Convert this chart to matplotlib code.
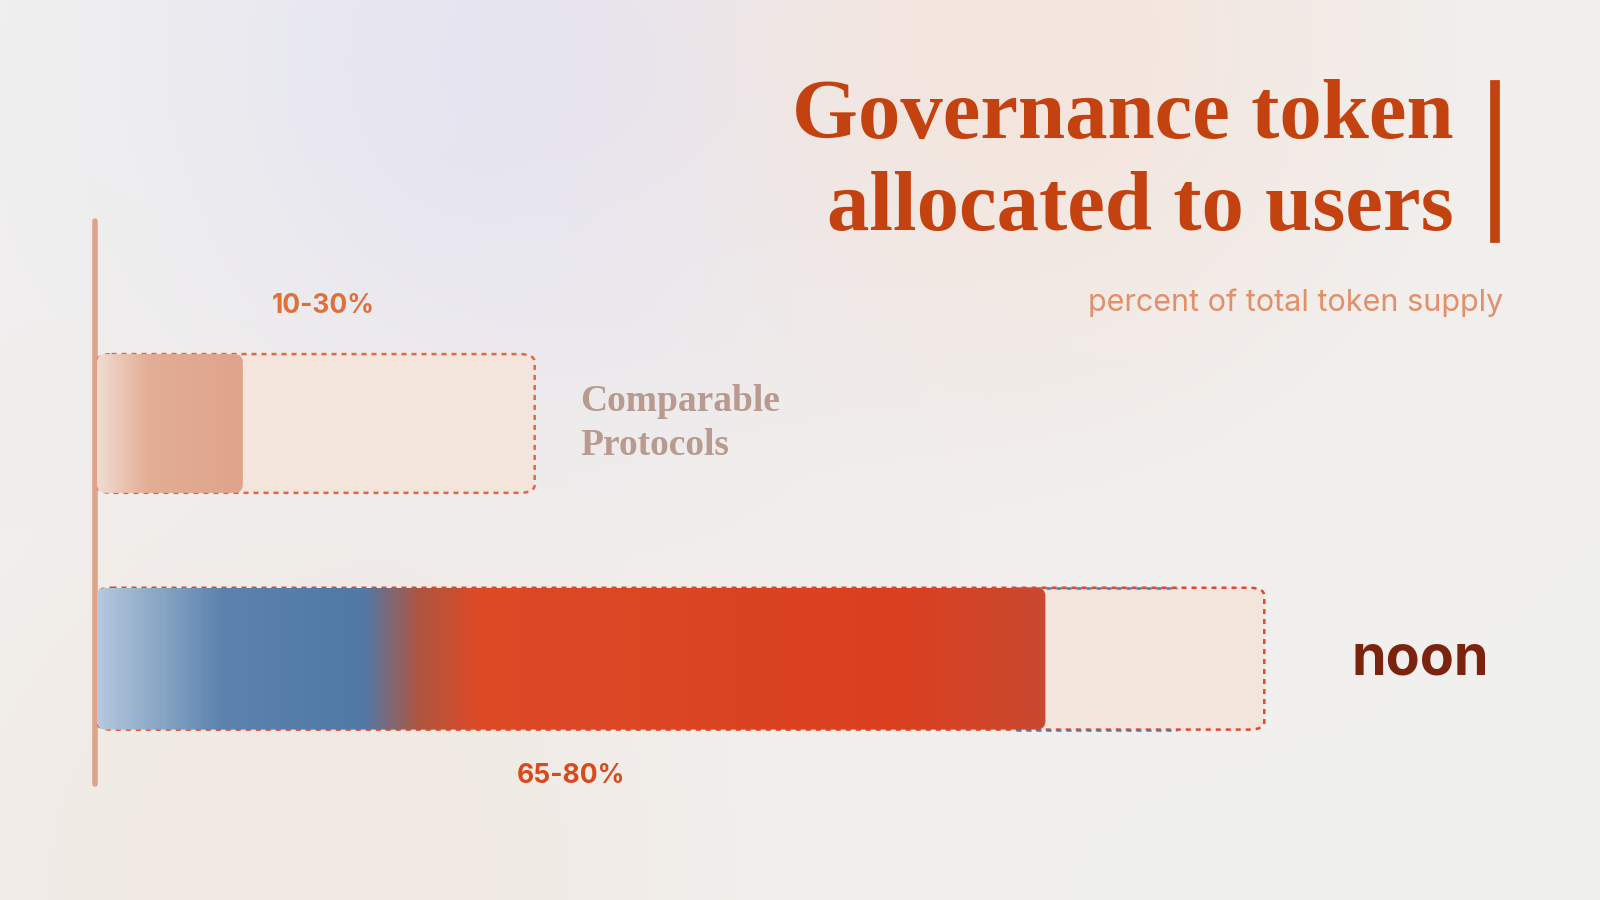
import numpy as np
import matplotlib.pyplot as plt
from matplotlib.patches import FancyBboxPatch
from matplotlib.colors import LinearSegmentedColormap

# data
groups = ["Comparable\nProtocols", "noon"]
low = [10, 65]
high = [30, 80]
range_labels = ["10-30%", "65-80%"]

W, H = 1568, 882
fig = plt.figure(figsize=(16, 9), dpi=100)

# soft background
bg = fig.add_axes([0, 0, 1, 1])
bg.set_xlim(0, W); bg.set_ylim(H, 0); bg.axis("off")
yy, xx = np.mgrid[0:H:4, 0:W:4]
img = np.ones((yy.shape[0], yy.shape[1], 3)) * np.array([0.945, 0.942, 0.937])
for cx, cy, r, col, a in [(520, 60, 240, [0.89, 0.89, 0.95], 0.9),
                          (1000, 40, 240, [0.96, 0.89, 0.85], 0.8),
                          (300, 860, 280, [0.95, 0.90, 0.86], 0.6)]:
    w = np.exp(-((xx - cx) ** 2 + (yy - cy) ** 2) / (2 * r ** 2))[..., None] * a
    img = img * (1 - w) + w * np.array(col)
bg.imshow(img, extent=[0, W, H, 0], aspect="auto", zorder=0)

# main axes: x in percent, y in pixels
px = 14.3
ax = fig.add_axes([95 / W, 0, 100 * px / W, 1])
ax.set_xlim(0, 100); ax.set_ylim(H, 0); ax.axis("off")

rows = [(347, 483), (576, 715)]
fill_cmaps = [
    LinearSegmentedColormap.from_list("c1", [(0, "#f0dcd2"), (0.35, "#e3ad96"), (1, "#dfa48b")]),
    LinearSegmentedColormap.from_list("c2", [(0, "#b5c8de"), (0.13, "#5b83ad"), (0.28, "#5179a6"),
                                             (0.34, "#b0553f"), (0.40, "#dc4a26"),
                                             (0.85, "#da4020"), (1, "#c94a30")]),
]
edge_cols = ["#e0683a", "#e0482a"]
for i, (y0, y1) in enumerate(rows):
    h = y1 - y0
    box = FancyBboxPatch((0, y0), high[i], h, boxstyle="round,pad=0,rounding_size=1",
                         mutation_aspect=8, facecolor="#f3e4dc", edgecolor=edge_cols[i],
                         linestyle=(0, (2, 2)), lw=1.8, zorder=2)
    ax.add_patch(box)
    if i == 1:
        for yv in (y0, y1):
            ax.plot([63, 74], [yv, yv], color="#5179a6", lw=1.8, ls=(0, (2, 2)), zorder=3)
    patch = FancyBboxPatch((0, y0), low[i], h, boxstyle="round,pad=0,rounding_size=0.6",
                           mutation_aspect=14, facecolor="none", edgecolor="none", zorder=4)
    ax.add_patch(patch)
    im = ax.imshow(np.linspace(0, 1, 256)[None, :], cmap=fill_cmaps[i],
                   extent=[0, low[i], y1, y0], aspect="auto", zorder=4)
    im.set_clip_path(patch)

ax.text(15.5, 300, range_labels[0], color="#e0703a", fontsize=19, fontweight="bold",
        family="Inter", ha="center", va="center")
ax.text(32.5, 760, range_labels[1], color="#d84a1c", fontsize=19, fontweight="bold",
        family="Inter", ha="center", va="center")
bg.text(569, 415, groups[0], color="#b89a8f", fontsize=27, fontweight="bold",
        family="Liberation Serif", ha="left", va="center", linespacing=1.3)
bg.text(1392, 646, groups[1], color="#7a2410", fontsize=40, fontweight="bold",
        family="Inter", ha="center", va="center")

# axis line, title
bg.plot([93, 93], [217, 768], color="#e0a38a", lw=4, solid_capstyle="round")
bg.plot([1465, 1465], [83, 233], color="#c4420f", lw=7)
bg.text(1425, 160, "Governance token\nallocated to users", color="#c4420f", fontsize=61,
        fontweight="bold", family="Liberation Serif", ha="right", va="center",
        linespacing=1.25)
bg.text(1473, 297, "percent of total token supply", color="#e0906a", fontsize=22,
        family="Inter", ha="right", va="center")

fig.savefig("out.png", dpi=100)
